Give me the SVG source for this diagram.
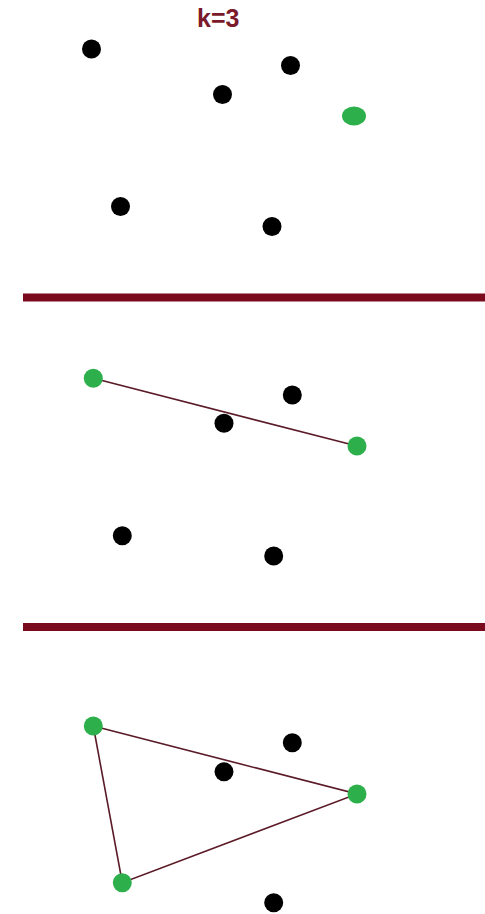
<svg xmlns="http://www.w3.org/2000/svg" width="485" height="914" viewBox="0 0 485 914">
<style>
.pt{fill:#000}
.sel{fill:#2db04b}
.edge{stroke:#5a1a26;stroke-width:1.6;fill:none}
.div{fill:#7a0a1e}
.lbl{font-family:"Liberation Sans",Arial,sans-serif;font-weight:bold;font-size:25px;fill:#7a1a2a}
</style>
<rect width="485" height="914" fill="#fff"/>
<text class="lbl" x="197" y="27">k=3</text>
<g id="panel1">
<circle id="p1a" class="pt" cx="91.5" cy="49" r="9.5"/>
<circle id="p1b" class="pt" cx="290.5" cy="65.5" r="9.5"/>
<circle id="p1c" class="pt" cx="222.5" cy="94.5" r="9.5"/>
<ellipse id="p1d" class="sel" cx="354" cy="116" rx="12" ry="9.5"/>
<circle id="p1e" class="pt" cx="120.5" cy="206.5" r="9.5"/>
<circle id="p1f" class="pt" cx="272" cy="226.5" r="9.5"/>
</g>
<rect class="div" x="23" y="293.5" width="462" height="8"/>
<g id="connectors2">
<line class="edge" x1="93.3" y1="378.3" x2="357" y2="446"/>
</g>
<g id="panel2">
<circle id="p2a" class="sel" cx="93.3" cy="378.3" r="9.5"/>
<circle id="p2b" class="pt" cx="292.3" cy="395" r="9.5"/>
<circle id="p2c" class="pt" cx="224" cy="423.3" r="9.5"/>
<circle id="p2d" class="sel" cx="357" cy="446" r="9.5"/>
<circle id="p2e" class="pt" cx="122.3" cy="535.7" r="9.5"/>
<circle id="p2f" class="pt" cx="273.7" cy="556" r="9.5"/>
</g>
<rect class="div" x="23" y="623" width="462" height="8"/>
<g id="connectors3">
<polygon class="edge" points="93.3,726 357,794 122.3,882.7"/>
</g>
<g id="panel3">
<circle id="p3a" class="sel" cx="93.3" cy="726" r="9.5"/>
<circle id="p3b" class="pt" cx="292.3" cy="742.7" r="9.5"/>
<circle id="p3c" class="pt" cx="224" cy="771.7" r="9.5"/>
<circle id="p3d" class="sel" cx="357" cy="794" r="9.5"/>
<circle id="p3e" class="sel" cx="122.3" cy="882.7" r="9.5"/>
<circle id="p3f" class="pt" cx="273.7" cy="902.7" r="9.5"/>
</g>
</svg>
